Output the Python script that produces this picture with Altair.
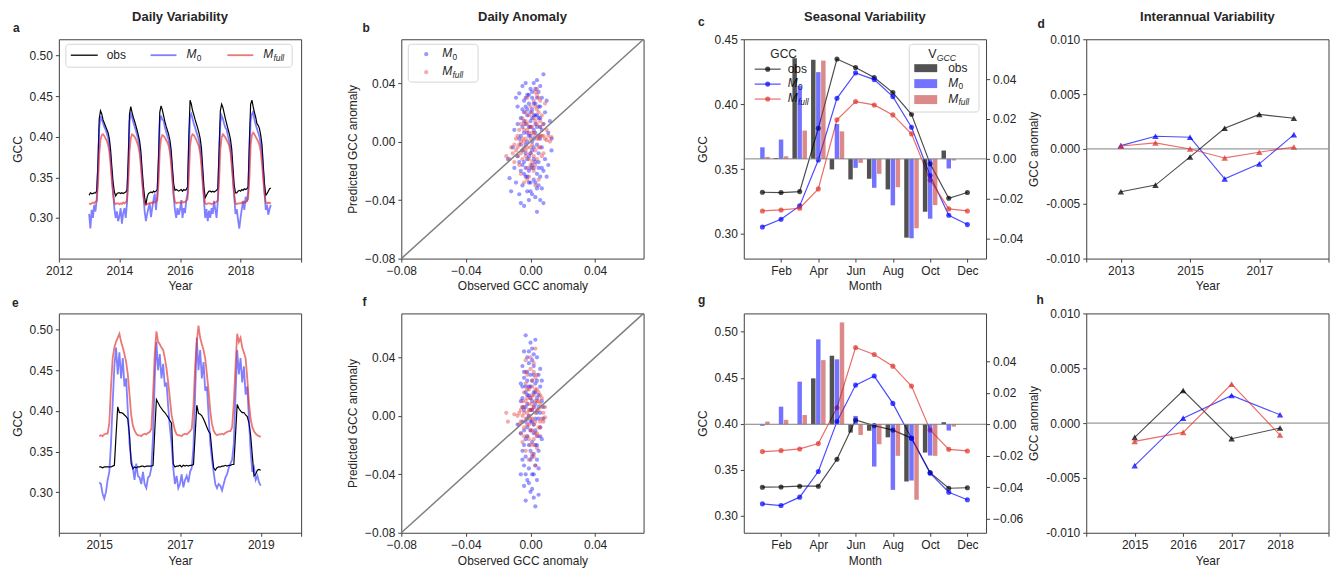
import altair as alt
import pandas as pd

FONT = "Liberation Sans"
TXT = "#262626"
FRAME = "#404040"
BLUE = "#0000ff"
RED = "#e0302a"
BLACK = "#000000"
GRAY = "#808080"
W, H = 243, 220
BW = 0.24  # bar width in months

# ---------------- data ----------------
# Panel a: daily GCC, semi-monthly readings (24 per year)
A_YEARS = [2013, 2014, 2015, 2016, 2017, 2018]
A_OBS = {
    2013: [0.328,0.331,0.330,0.330,0.331,0.331,0.333,0.368,0.422,0.432,0.428,0.421,0.417,0.413,0.409,0.405,0.398,0.384,0.363,0.344,0.332,0.327,0.330,0.331],
    2014: [0.331,0.330,0.331,0.330,0.331,0.332,0.334,0.372,0.428,0.437,0.430,0.424,0.419,0.414,0.408,0.402,0.395,0.382,0.360,0.340,0.325,0.316,0.326,0.330],
    2015: [0.331,0.332,0.331,0.333,0.332,0.333,0.335,0.375,0.430,0.438,0.433,0.426,0.419,0.413,0.408,0.403,0.396,0.384,0.362,0.342,0.334,0.335,0.334,0.333],
    2016: [0.334,0.335,0.333,0.335,0.334,0.335,0.338,0.400,0.445,0.440,0.432,0.427,0.421,0.416,0.411,0.405,0.398,0.386,0.362,0.338,0.325,0.328,0.331,0.333],
    2017: [0.333,0.332,0.333,0.332,0.333,0.334,0.336,0.385,0.432,0.440,0.436,0.429,0.422,0.416,0.410,0.404,0.397,0.385,0.362,0.340,0.331,0.331,0.333,0.334],
    2018: [0.333,0.335,0.334,0.336,0.335,0.336,0.338,0.395,0.440,0.445,0.437,0.430,0.424,0.416,0.414,0.410,0.402,0.390,0.365,0.342,0.328,0.330,0.333,0.336],
}
A_OBS_END = 0.337
A_M0 = {
    2013: [0.305,0.287,0.310,0.300,0.316,0.308,0.322,0.360,0.410,0.425,0.421,0.417,0.412,0.409,0.404,0.399,0.389,0.374,0.352,0.332,0.312,0.300,0.308,0.296],
    2014: [0.302,0.312,0.293,0.306,0.312,0.300,0.318,0.362,0.418,0.428,0.424,0.418,0.413,0.408,0.402,0.396,0.388,0.372,0.350,0.330,0.308,0.296,0.305,0.312],
    2015: [0.318,0.301,0.312,0.322,0.330,0.310,0.328,0.365,0.418,0.426,0.421,0.420,0.412,0.406,0.401,0.396,0.388,0.374,0.354,0.326,0.310,0.300,0.312,0.304],
    2016: [0.310,0.322,0.300,0.312,0.306,0.322,0.330,0.380,0.425,0.428,0.422,0.416,0.411,0.406,0.401,0.396,0.386,0.374,0.350,0.322,0.300,0.311,0.296,0.309],
    2017: [0.300,0.312,0.305,0.321,0.310,0.300,0.322,0.372,0.418,0.426,0.422,0.416,0.411,0.409,0.401,0.395,0.386,0.371,0.350,0.326,0.305,0.311,0.298,0.287],
    2018: [0.300,0.311,0.321,0.310,0.326,0.320,0.332,0.378,0.420,0.428,0.431,0.421,0.415,0.410,0.405,0.400,0.391,0.380,0.356,0.332,0.310,0.316,0.304,0.311],
}
A_M0_END = 0.316
A_MF = {
    2013: [0.318,0.317,0.318,0.319,0.318,0.320,0.321,0.340,0.378,0.396,0.402,0.403,0.401,0.398,0.395,0.390,0.382,0.366,0.346,0.329,0.319,0.317,0.318,0.318],
    2014: [0.317,0.318,0.317,0.319,0.318,0.319,0.322,0.342,0.382,0.398,0.403,0.402,0.400,0.397,0.393,0.388,0.380,0.364,0.344,0.327,0.318,0.316,0.317,0.318],
    2015: [0.318,0.319,0.318,0.320,0.319,0.320,0.322,0.343,0.383,0.398,0.402,0.401,0.399,0.396,0.393,0.389,0.381,0.366,0.346,0.329,0.320,0.318,0.319,0.319],
    2016: [0.319,0.318,0.320,0.319,0.320,0.321,0.323,0.348,0.388,0.400,0.403,0.402,0.399,0.396,0.392,0.388,0.380,0.364,0.343,0.327,0.318,0.317,0.318,0.318],
    2017: [0.318,0.317,0.318,0.318,0.319,0.320,0.322,0.345,0.385,0.399,0.403,0.401,0.399,0.396,0.393,0.389,0.381,0.365,0.345,0.328,0.318,0.317,0.318,0.318],
    2018: [0.318,0.319,0.318,0.320,0.319,0.321,0.323,0.348,0.390,0.402,0.405,0.403,0.400,0.397,0.394,0.390,0.382,0.367,0.347,0.330,0.319,0.318,0.319,0.318],
}
A_MF_END = 0.319

# Panel e: daily GCC, semi-monthly readings
E_YEARS = [2015, 2016, 2017, 2018]
E_OBS = {
    2015: [0.331,0.331,0.330,0.331,0.331,0.331,0.331,0.331,0.332,0.333,0.370,0.405,0.398,0.398,0.397,0.395,0.393,0.390,0.370,0.335,0.329,0.331,0.330,0.331],
    2016: [0.331,0.332,0.332,0.331,0.332,0.332,0.332,0.332,0.333,0.375,0.414,0.410,0.406,0.403,0.400,0.398,0.395,0.392,0.388,0.385,0.335,0.331,0.332,0.332],
    2017: [0.333,0.331,0.333,0.332,0.333,0.332,0.333,0.333,0.334,0.370,0.407,0.397,0.396,0.394,0.390,0.385,0.380,0.375,0.372,0.350,0.330,0.327,0.330,0.331],
    2018: [0.331,0.332,0.332,0.333,0.332,0.333,0.333,0.334,0.334,0.370,0.408,0.403,0.400,0.398,0.398,0.395,0.393,0.385,0.370,0.345,0.320,0.322,0.327,0.328],
}
E_OBS_END = 0.327
E_M0 = {
    2015: [0.312,0.310,0.298,0.292,0.300,0.315,0.325,0.360,0.410,0.455,0.478,0.445,0.472,0.440,0.465,0.430,0.440,0.400,0.360,0.340,0.330,0.315,0.335,0.320],
    2016: [0.318,0.310,0.325,0.310,0.305,0.318,0.320,0.330,0.370,0.440,0.485,0.450,0.470,0.440,0.458,0.430,0.435,0.405,0.380,0.360,0.330,0.310,0.320,0.305],
    2017: [0.310,0.322,0.306,0.315,0.320,0.312,0.325,0.330,0.355,0.420,0.490,0.450,0.475,0.440,0.460,0.425,0.430,0.395,0.360,0.340,0.325,0.310,0.305,0.310],
    2018: [0.308,0.302,0.310,0.318,0.322,0.330,0.335,0.340,0.360,0.420,0.475,0.445,0.465,0.435,0.455,0.420,0.430,0.390,0.350,0.325,0.330,0.315,0.320,0.312],
}
E_M0_END = 0.308
E_MF = {
    2015: [0.369,0.370,0.369,0.371,0.372,0.372,0.385,0.430,0.465,0.478,0.485,0.490,0.495,0.485,0.478,0.470,0.460,0.445,0.420,0.395,0.382,0.376,0.372,0.370],
    2016: [0.370,0.369,0.371,0.372,0.371,0.373,0.374,0.378,0.420,0.470,0.498,0.485,0.482,0.478,0.475,0.465,0.452,0.435,0.415,0.395,0.385,0.376,0.371,0.370],
    2017: [0.370,0.369,0.371,0.372,0.371,0.373,0.375,0.378,0.405,0.455,0.485,0.505,0.490,0.482,0.475,0.465,0.445,0.425,0.400,0.384,0.376,0.372,0.370,0.371],
    2018: [0.371,0.372,0.371,0.373,0.374,0.375,0.375,0.380,0.410,0.455,0.495,0.485,0.490,0.478,0.472,0.465,0.440,0.410,0.390,0.380,0.375,0.372,0.370,0.369],
}
E_MF_END = 0.368

# Panels b, f: (observed anomaly, predicted anomaly)
B_M0 = [(-0.013,-0.025),(-0.012,-0.034),(-0.011,-0.004),(-0.010,0.008),(-0.010,-0.018),(-0.009,0.030),(-0.009,-0.028),(-0.008,0.012),(-0.008,-0.010),(-0.008,0.024),
        (-0.007,-0.036),(-0.007,0.002),(-0.007,0.033),(-0.006,-0.020),(-0.006,0.016),(-0.006,-0.042),(-0.005,0.038),(-0.005,-0.006),(-0.005,0.022),(-0.005,-0.030),
        (-0.004,0.006),(-0.004,-0.044),(-0.004,0.028),(-0.004,-0.014),(-0.003,0.040),(-0.003,-0.024),(-0.003,0.012),(-0.003,-0.002),(-0.002,0.032),(-0.002,-0.034),
        (-0.002,0.018),(-0.002,-0.012),(-0.001,0.026),(-0.001,-0.040),(-0.001,0.004),(-0.001,-0.020),(0.000,0.036),(0.000,-0.028),(0.000,0.014),(0.000,-0.008),
        (0.001,0.022),(0.001,-0.036),(0.001,0.030),(0.001,-0.016),(0.002,0.008),(0.002,-0.026),(0.002,0.040),(0.002,-0.004),(0.003,0.018),(0.003,-0.038),
        (0.003,0.026),(0.003,-0.014),(0.004,0.042),(0.004,-0.048),(0.004,0.010),(0.004,-0.022),(0.005,0.034),(0.005,-0.030),(0.005,0.016),(0.005,-0.008),
        (0.006,0.038),(0.006,-0.040),(0.006,0.002),(0.006,0.024),(0.007,-0.018),(0.007,0.030),(0.007,-0.032),(0.008,0.046),(0.008,-0.042),(0.008,0.012),
        (0.009,0.020),(0.009,-0.012),(0.010,0.028),(0.010,-0.024),(0.011,0.006),(0.012,0.014),(0.013,0.002),(0.013,-0.006),(-0.014,-0.012),(0.011,-0.016),
        (-0.002,0.000),(0.000,0.004),(0.002,0.002),(0.001,-0.006),(-0.001,0.010),(0.003,0.006),(-0.003,-0.008),(0.004,-0.002),(0.000,0.020),(0.002,-0.012),
        (-0.004,0.014),(0.005,0.004),
        (-0.006,0.004),(-0.005,-0.016),(-0.004,0.020),(-0.003,-0.018),(-0.002,0.006),(-0.001,-0.010),(0.000,0.010),(0.001,0.016),(0.002,-0.018),(0.003,0.012),
        (0.004,0.018),(0.005,-0.014),(0.006,0.010),(0.007,-0.004),(-0.005,0.010),(-0.003,0.024),(-0.001,-0.028),(0.001,0.034),(0.003,-0.028),(0.005,0.024),
        (0.006,-0.024),(-0.004,-0.022),(-0.002,0.022),(0.000,-0.018),(0.002,0.026),(0.004,-0.032),(0.006,0.016),(-0.006,-0.002),(0.007,0.008),(0.008,-0.020),
        (-0.007,-0.014),(0.001,0.000),(-0.002,-0.024),(0.003,0.036),(0.004,0.030),(-0.001,0.032),(0.005,-0.018),(0.002,0.018),(-0.003,0.030),(0.000,-0.034)]
B_MF = [(-0.015,-0.010),(-0.013,-0.012),(-0.012,-0.004),(-0.011,-0.008),(-0.010,-0.002),(-0.010,-0.014),(-0.009,-0.006),(-0.009,0.002),(-0.008,-0.010),(-0.008,0.004),
        (-0.007,-0.016),(-0.007,-0.002),(-0.007,0.008),(-0.006,-0.008),(-0.006,0.012),(-0.006,-0.022),(-0.005,0.002),(-0.005,-0.012),(-0.005,0.016),(-0.004,-0.004),
        (-0.004,0.008),(-0.004,-0.028),(-0.003,0.020),(-0.003,-0.010),(-0.003,0.002),(-0.002,-0.018),(-0.002,0.012),(-0.002,-0.004),(-0.001,0.006),(-0.001,-0.024),
        (-0.001,0.018),(0.000,-0.008),(0.000,0.002),(0.000,0.024),(0.001,-0.014),(0.001,0.010),(0.001,-0.002),(0.002,0.028),(0.002,-0.020),(0.002,0.006),
        (0.003,0.034),(0.003,-0.006),(0.003,0.014),(0.004,0.036),(0.004,-0.012),(0.004,0.022),(0.005,0.030),(0.005,0.002),(0.005,-0.026),(0.006,0.010),
        (0.006,-0.004),(0.007,0.018),(0.007,0.004),(0.008,-0.008),(0.008,0.012),(0.009,0.002),(0.010,0.008),(0.011,0.004),(0.012,0.000),(0.013,0.003),
        (0.009,0.026),(0.006,0.028),(-0.002,0.030),(0.000,-0.016),(0.003,-0.030),
        (-0.004,0.000),(-0.003,-0.006),(-0.002,0.008),(-0.001,-0.012),(0.000,0.010),(0.001,0.006),(0.002,-0.010),(0.003,0.004),(0.004,0.002),(0.005,-0.004),
        (0.006,0.014),(0.007,-0.010),(-0.006,0.000),(-0.005,-0.006),(0.000,-0.004),(0.002,0.016),(0.004,0.012),(0.001,-0.018),(-0.003,0.014),(0.003,0.024),
        (0.005,0.020),(0.008,0.004),(0.010,0.001),(-0.008,-0.004),(-0.002,-0.026),(0.001,0.020),(0.003,-0.016),(0.006,0.004),(-0.004,0.012),(0.004,0.032)]
F_M0 = [(-0.006,0.022),(-0.006,-0.012),(-0.006,-0.040),(-0.005,0.034),(-0.005,-0.004),(-0.005,-0.024),(-0.005,0.012),(-0.004,0.044),(-0.004,-0.034),(-0.004,0.004),
        (-0.004,-0.048),(-0.004,0.026),(-0.003,-0.016),(-0.003,0.055),(-0.003,0.016),(-0.003,-0.058),(-0.003,-0.028),(-0.002,0.030),(-0.002,-0.008),(-0.002,0.040),
        (-0.002,-0.044),(-0.002,0.008),(-0.001,-0.020),(-0.001,0.020),(-0.001,-0.036),(-0.001,0.036),(-0.001,0.000),(0.000,-0.052),(0.000,0.012),(0.000,-0.030),
        (0.000,0.028),(0.000,-0.010),(0.001,0.046),(0.001,-0.040),(0.001,0.004),(0.001,-0.018),(0.001,0.024),(0.002,-0.056),(0.002,0.034),(0.002,-0.006),
        (0.002,0.016),(0.002,-0.026),(0.003,0.052),(0.003,-0.034),(0.003,0.008),(0.003,-0.062),(0.003,0.022),(0.004,-0.014),(0.004,0.040),(0.004,-0.044),
        (0.004,0.002),(0.005,0.028),(0.005,-0.024),(0.005,0.014),(0.005,-0.054),(0.006,0.020),(0.006,-0.008),(0.006,0.032),(0.007,-0.016),(0.007,0.024),
        (0.008,0.006),(0.008,-0.002),(-0.008,-0.006),(0.000,0.004),(-0.002,-0.002),(0.001,-0.004),(0.003,-0.002),(-0.003,0.006),(0.002,0.042),(-0.001,-0.046),
        (-0.005,0.006),(-0.004,-0.020),(-0.003,0.020),(-0.002,-0.014),(-0.001,0.014),(0.000,-0.004),(0.001,0.010),(0.002,-0.012),(0.003,0.016),(0.004,-0.020),
        (0.005,0.006),(0.006,-0.014),(-0.005,-0.030),(-0.004,0.030),(-0.002,0.024),(0.000,0.020),(0.001,-0.028),(0.002,0.028),(0.003,-0.020),(0.004,0.024),
        (0.005,-0.036),(-0.003,-0.040),(-0.001,0.044),(0.001,-0.050),(0.004,0.012),(-0.002,0.014),(0.000,-0.024),(0.002,0.006),(0.003,-0.010),(-0.004,-0.010),
        (0.006,0.002),(-0.006,0.010),(0.007,0.010),(0.001,0.038),(-0.003,-0.004),(0.005,-0.002),(0.002,-0.040),(-0.005,0.020),(0.000,0.050),(0.004,-0.030)]
F_MF = [(-0.015,0.002),(-0.014,-0.004),(-0.010,0.001),(-0.008,0.000),(-0.007,-0.006),(-0.006,0.004),(-0.006,-0.012),(-0.005,0.010),(-0.005,-0.018),(-0.005,0.000),
        (-0.004,0.016),(-0.004,-0.008),(-0.004,0.006),(-0.003,-0.024),(-0.003,0.022),(-0.003,-0.002),(-0.002,0.012),(-0.002,-0.014),(-0.002,0.028),(-0.002,0.002),
        (-0.001,-0.030),(-0.001,0.008),(-0.001,-0.006),(-0.001,0.018),(0.000,-0.020),(0.000,0.004),(0.000,0.032),(0.000,-0.010),(0.001,0.014),(0.001,-0.002),
        (0.001,-0.026),(0.001,0.024),(0.002,0.006),(0.002,-0.016),(0.002,0.036),(0.002,-0.006),(0.003,0.018),(0.003,-0.034),(0.003,0.002),(0.003,0.046),
        (0.004,-0.012),(0.004,0.010),(0.004,0.028),(0.004,-0.022),(0.005,0.004),(0.005,0.016),(0.005,-0.008),(0.006,0.008),(0.006,-0.004),(0.007,0.012),
        (0.007,-0.002),(0.008,0.002),(0.009,0.006),(0.009,-0.001),(0.000,0.040),(-0.003,0.038),(0.002,-0.028),(-0.001,0.000),(0.001,0.004),(0.003,-0.004),
        (-0.004,0.002),(-0.003,0.010),(-0.002,-0.006),(-0.001,0.004),(0.000,0.012),(0.001,-0.010),(0.002,0.014),(0.003,-0.012),(0.004,0.004),(0.005,0.010),
        (0.006,-0.008),(-0.005,0.006),(-0.006,-0.004),(0.000,-0.002),(0.001,0.020),(0.002,-0.020),(0.003,0.026),(-0.002,0.018),(-0.004,-0.014),(0.005,-0.014),
        (0.007,0.006),(0.008,-0.004),(-0.001,-0.016),(0.002,0.030),(0.004,0.018),(-0.003,0.030),(0.001,0.008),(0.003,0.010),(-0.007,0.002),(0.006,0.014)]
ANOM_LIM = [-0.08, 0.07]

# Panels c, g: monthly climatology (left axis) and V_GCC bars (right axis)
MONTHS = [1, 2, 3, 4, 5, 6, 7, 8, 9, 10, 11, 12]
MONTH_NAMES = ["", "Jan", "Feb", "Mar", "Apr", "May", "Jun", "Jul", "Aug", "Sep", "Oct", "Nov", "Dec"]
C_OBS = [0.3321,0.3319,0.3326,0.3814,0.4348,0.4282,0.4205,0.4089,0.3922,0.3540,0.3275,0.3319]
C_M0 = [0.3054,0.3113,0.3216,0.3570,0.4045,0.4241,0.4189,0.4058,0.3822,0.3450,0.3144,0.3072]
C_MF = [0.3177,0.3185,0.3198,0.3347,0.3879,0.4020,0.3994,0.3917,0.3771,0.3416,0.3193,0.3177]
C_V_OBS = [0.0, 0.0005, 0.0505, 0.0497, -0.0053, -0.0103, -0.0100, -0.0153, -0.0395, -0.0265, 0.0042, 0.0]
C_V_M0 = [0.0058, 0.0097, 0.0367, 0.0435, 0.0175, -0.0045, -0.0145, -0.0233, -0.0398, -0.0300, -0.0048, 0.0]
C_V_MF = [0.0010, 0.0013, 0.0142, 0.0493, 0.0138, -0.0020, -0.0075, -0.0142, -0.0348, -0.0232, -0.0008, 0.0]
G_OBS = [0.3311,0.3314,0.3322,0.3322,0.3615,0.4042,0.3980,0.3932,0.3845,0.3470,0.3300,0.3305]
G_M0 = [0.3130,0.3112,0.3203,0.3481,0.4024,0.4421,0.4519,0.4222,0.3843,0.3463,0.3257,0.3174]
G_MF = [0.3698,0.3709,0.3727,0.3785,0.4175,0.4830,0.4754,0.4627,0.4410,0.3933,0.3723,0.3705]
G_V_OBS = [0.0, 0.0, 0.0, 0.0292, 0.0436, -0.0053, -0.0042, -0.0083, -0.0364, -0.0180, 0.0013, 0.0]
G_V_M0 = [-0.0010, 0.0112, 0.0271, 0.0540, 0.0413, 0.0053, -0.0269, -0.0417, -0.0358, -0.0199, -0.0040, 0.0]
G_V_MF = [0.0017, 0.0028, 0.0059, 0.0408, 0.0648, -0.0068, -0.0127, -0.0201, -0.0480, -0.0201, -0.0015, 0.0]

# Panels d, h: interannual anomalies
D_YEARS = [2013, 2014, 2015, 2016, 2017, 2018]
D_OBS = [-0.0039, -0.0033, -0.00073, 0.00188, 0.00315, 0.00279]
D_M0 = [0.0003, 0.00115, 0.00106, -0.00273, -0.00136, 0.0013]
D_MF = [0.00027, 0.00055, 0.0, -0.00082, -0.0003, 0.00018]
H_YEARS = [2015, 2016, 2017, 2018]
H_OBS = [-0.0013, 0.00297, -0.00142, -0.00045]
H_M0 = [-0.00388, 0.00045, 0.00252, 0.00076]
H_MF = [-0.00167, -0.00085, 0.00355, -0.00109]

ONE = pd.DataFrame({"k": [0]})


# ---------------- helpers ----------------
def ts_df(years, table, last):
    rows = [{"t": yr + k / 24.0, "v": v} for yr in years for k, v in enumerate(table[yr])]
    rows.append({"t": years[-1] + 1.0, "v": last})
    return pd.DataFrame(rows)


def txt(s, x, y, size=12, weight="normal", style="normal", align="left", color=TXT):
    return alt.Chart(ONE).mark_text(
        text=s, font=FONT, fontSize=size, fontWeight=weight, fontStyle=style,
        align=align, baseline="middle", color=color
    ).encode(x=alt.value(x), y=alt.value(y))


def math_label(x, y, main, sub, size=12, main_style="italic"):
    w = {"M": 0.86, "V": 0.68}[main] * size
    return [
        txt(main, x, y, size, style=main_style),
        txt(sub, x + w, y + 0.3 * size, round(size * 0.7, 1),
            style="italic" if sub.isalpha() else "normal"),
    ]


def swatch_line(x1, x2, y, color, width, opacity):
    return alt.Chart(ONE).mark_rule(color=color, strokeWidth=width, opacity=opacity).encode(
        x=alt.value(x1), x2=alt.value(x2), y=alt.value(y))


def box(x1, x2, y1, y2):
    return alt.Chart(ONE).mark_rect(
        fill="white", fillOpacity=0.8, stroke="#d5d5d5", strokeWidth=1, cornerRadius=3
    ).encode(x=alt.value(x1), x2=alt.value(x2), y=alt.value(y1), y2=alt.value(y2))


def dot(x, y, color, opacity, size):
    return alt.Chart(ONE).mark_circle(color=color, opacity=opacity, size=size).encode(
        x=alt.value(x), y=alt.value(y))


def patch(x1, x2, y1, y2, color, opacity):
    return alt.Chart(ONE).mark_rect(color=color, opacity=opacity).encode(
        x=alt.value(x1), x2=alt.value(x2), y=alt.value(y1), y2=alt.value(y2))


def year_axis(values, hidden):
    cond = " || ".join(f"datum.value == {h}" for h in hidden)
    return alt.Axis(title="Year", values=values, format="d",
                    labelExpr=f"({cond}) ? '' : datum.label")


def heading(letter, lx, ly, title):
    out = [txt(letter, lx, ly, 12, weight="bold")]
    if title:
        out.append(txt(title, W / 2, -22, 13, weight="bold", align="center"))
    return out


# ---------------- panels ----------------
def ts_panel(obs, m0, mf, xdom, xvals, hidden, letter, lpos, title, legend):
    x = alt.X("t:Q", scale=alt.Scale(domain=xdom, nice=False, zero=False), axis=year_axis(xvals, hidden))
    y = alt.Y("v:Q", scale=alt.Scale(domain=[0.25, 0.52], nice=False, zero=False),
              axis=alt.Axis(title="GCC", values=[0.30, 0.35, 0.40, 0.45, 0.50], format=".2f"))
    layers = [
        alt.Chart(obs).mark_line(color=BLACK, strokeWidth=1.2).encode(x=x, y=y),
        alt.Chart(m0).mark_line(color=BLUE, strokeWidth=1.8, opacity=0.5).encode(x=x, y=y),
        alt.Chart(mf).mark_line(color=RED, strokeWidth=1.8, opacity=0.65).encode(x=x, y=y),
    ]
    if legend:
        layers += [box(7, 234, 5, 28),
                   swatch_line(12, 39, 16, BLACK, 1.3, 1.0), txt("obs", 48, 16),
                   swatch_line(92, 118, 16, BLUE, 1.8, 0.5)] + math_label(128, 15, "M", "0") + [
                   swatch_line(169, 195, 16, RED, 1.8, 0.65)] + math_label(205, 15, "M", "full")
    layers += heading(letter, lpos[0], lpos[1], title)
    return alt.layer(*layers).properties(width=W, height=H)


def scatter_panel(m0, mf, letter, lpos, title, legend):
    ax = dict(values=[-0.08, -0.04, 0.0, 0.04],
              labelExpr="replace(format(datum.value, '.2f'), '-', '\u2212')")
    x = alt.X("x:Q", scale=alt.Scale(domain=ANOM_LIM, nice=False, zero=False),
              axis=alt.Axis(title="Observed GCC anomaly", **ax))
    y = alt.Y("y:Q", scale=alt.Scale(domain=ANOM_LIM, nice=False, zero=False),
              axis=alt.Axis(title="Predicted GCC anomaly", **ax))
    d0 = pd.DataFrame(m0, columns=["x", "y"])
    d1 = pd.DataFrame(mf, columns=["x", "y"])
    diag = pd.DataFrame({"x": ANOM_LIM, "y": ANOM_LIM})
    layers = [
        alt.Chart(d0).mark_circle(color=BLUE, opacity=0.4, size=18).encode(x=x, y=y),
        alt.Chart(d1).mark_circle(color=RED, opacity=0.4, size=18).encode(x=x, y=y),
        alt.Chart(diag).mark_line(color=GRAY, strokeWidth=1.5).encode(x=x, y=y),
    ]
    if legend:
        layers += [box(7, 77, 5, 43), dot(25, 15, BLUE, 0.4, 18), dot(25, 33, RED, 0.4, 18)]
        layers += math_label(41, 14, "M", "0") + math_label(41, 32, "M", "full")
    layers += heading(letter, lpos[0], lpos[1], title)
    return alt.layer(*layers).properties(width=W, height=H)


MONTH_EXPR = "[" + ",".join(f"'{m}'" for m in MONTH_NAMES) + "][datum.value]"


def seasonal_panel(lines, bars, ldom, lvals, rdom, rvals, letter, lpos, title, legend):
    xscale = alt.Scale(domain=[0, 13], nice=False, zero=False)
    xaxis = alt.Axis(title="Month", values=[2, 4, 6, 8, 10, 12], labelExpr=MONTH_EXPR)

    def X(f):
        return alt.X(f + ":Q", scale=xscale, axis=xaxis)

    yl = alt.Y("v:Q", scale=alt.Scale(domain=ldom, nice=False, zero=False),
               axis=alt.Axis(title="GCC", values=lvals, format=".2f"))
    left = []
    for vals, color, op in lines:
        base = alt.Chart(pd.DataFrame({"m": MONTHS, "v": vals})).encode(x=X("m"), y=yl)
        left += [base.mark_line(color=color, strokeWidth=1.2, opacity=op),
                 base.mark_circle(color=color, size=26, opacity=op)]
    if legend:
        left += [txt("GCC", 40, 15, 12, align="center")]
        for (vals, color, op), yy, name in zip(lines, [30, 45, 60], ["obs", "0", "full"]):
            left += [swatch_line(11, 37, yy, color, 1.2, op), dot(24, yy, color, op, 26)]
            if name == "obs":
                left.append(txt("obs", 44, yy))
            else:
                left += math_label(44, yy - 1, "M", name)
    yr = alt.Y("v:Q", scale=alt.Scale(domain=rdom, nice=False, zero=False),
               axis=alt.Axis(title=None, orient="right", values=rvals,
                             labelExpr="replace(format(datum.value, '.2f'), '-', '\u2212')"))
    right = []
    for vals, color, op, off in bars:
        right.append(
            alt.Chart(pd.DataFrame({"m": MONTHS, "v": vals}))
            .transform_calculate(a=f"datum.m + ({off}) - {BW / 2}", b=f"datum.m + ({off}) + {BW / 2}")
            .mark_bar(color=color, opacity=op)
            .encode(x=X("a"), x2="b:Q", y=yr, y2=alt.datum(0))
        )
    right.append(alt.Chart(ONE).mark_rule(color=GRAY, strokeWidth=1).encode(y=alt.datum(0)))
    if legend:
        right += [box(166, 236, 5, 73)] + math_label(185, 15, "V", "GCC", 12.5, main_style="normal")
        for (vals, color, op, off), (y1, y2), name in zip(bars, [(25, 33), (40, 49), (56, 65)], ["obs", "0", "full"]):
            right.append(patch(171, 194, y1, y2, color, op))
            if name == "obs":
                right.append(txt("obs", 205, (y1 + y2) / 2))
            else:
                right += math_label(205, (y1 + y2) / 2 - 1, "M", name)
    lay = alt.layer(alt.layer(*left), alt.layer(*right), *heading(letter, lpos[0], lpos[1], title))
    return lay.resolve_scale(y="independent").properties(width=W, height=H)


def inter_panel(years, obs, m0, mf, xdom, xvals, hidden, letter, lpos, title):
    x = alt.X("yr:Q", scale=alt.Scale(domain=xdom, nice=False, zero=False), axis=year_axis(xvals, hidden))
    y = alt.Y("v:Q", scale=alt.Scale(domain=[-0.01, 0.01], nice=False, zero=False),
              axis=alt.Axis(title="GCC anomaly", values=[-0.01, -0.005, 0.0, 0.005, 0.01],
                            labelExpr="replace(format(datum.value, '.3f'), '\u2212', '-')"))
    layers = [alt.Chart(ONE).mark_rule(color=GRAY, strokeWidth=1).encode(y=alt.datum(0))]
    for vals, color in [(obs, BLACK), (m0, BLUE), (mf, RED)]:
        base = alt.Chart(pd.DataFrame({"yr": years, "v": vals})).encode(x=x, y=y)
        layers += [base.mark_line(color=color, strokeWidth=1.1, opacity=0.7),
                   base.mark_point(shape="triangle-up", filled=True, size=42, color=color, opacity=0.75)]
    layers += heading(letter, lpos[0], lpos[1], title)
    return alt.layer(*layers).properties(width=W, height=H)


pa = ts_panel(ts_df(A_YEARS, A_OBS, A_OBS_END), ts_df(A_YEARS, A_M0, A_M0_END), ts_df(A_YEARS, A_MF, A_MF_END),
              [2012, 2020], [2012, 2014, 2016, 2018, 2020], [2020], "a", (-46, -11), "Daily Variability", True)
pe = ts_panel(ts_df(E_YEARS, E_OBS, E_OBS_END), ts_df(E_YEARS, E_M0, E_M0_END), ts_df(E_YEARS, E_MF, E_MF_END),
              [2014, 2020], [2014, 2015, 2017, 2019, 2020], [2014, 2020], "e", (-47, -10), None, False)
pb = scatter_panel(B_M0, B_MF, "b", (-39, -11), "Daily Anomaly", True)
pf = scatter_panel(F_M0, F_MF, "f", (-39, -11), None, False)

LINE_STYLE = [(BLACK, 0.7), (BLUE, 0.7), (RED, 0.7)]
BAR_STYLE = [(BLACK, 0.68, -0.27), (BLUE, 0.55, 0.0), ("#c0282a", 0.55, 0.27)]

pc = seasonal_panel([(v,) + s for v, s in zip([C_OBS, C_M0, C_MF], LINE_STYLE)],
                    [(v,) + s for v, s in zip([C_V_OBS, C_V_M0, C_V_MF], BAR_STYLE)],
                    [0.281, 0.45], [0.30, 0.35, 0.40, 0.45], [-0.05, 0.06], [-0.04, -0.02, 0.0, 0.02, 0.04],
                    "c", (-46, -17), "Seasonal Variability", True)
pg = seasonal_panel([(v,) + s for v, s in zip([G_OBS, G_M0, G_MF], LINE_STYLE)],
                    [(v,) + s for v, s in zip([G_V_OBS, G_V_M0, G_V_MF], BAR_STYLE)],
                    [0.2816, 0.52], [0.30, 0.35, 0.40, 0.45, 0.50], [-0.069, 0.0705],
                    [-0.06, -0.04, -0.02, 0.0, 0.02, 0.04], "g", (-46, -13), None, False)

pd_ = inter_panel(D_YEARS, D_OBS, D_M0, D_MF, [2012, 2019], [2012, 2013, 2015, 2017, 2019], [2012, 2019],
                  "d", (-49, -15), "Interannual Variability")
ph = inter_panel(H_YEARS, H_OBS, H_M0, H_MF, [2014, 2019], [2014, 2015, 2016, 2017, 2018, 2019], [2014, 2019],
                 "h", (-50, -13), None)

chart = (
    alt.concat(pa, pb, pc, pd_, pe, pf, pg, ph, columns=4, bounds="flush",
               spacing={"row": 55, "column": 100.5})
    .properties(padding={"left": 2, "top": 1.5, "right": 0, "bottom": 0})
    .configure_view(stroke=FRAME, strokeWidth=1)
    .configure_axis(grid=False, domain=False, ticks=True, tickColor=FRAME, tickSize=3.5, tickWidth=1,
                    labelFont=FONT, titleFont=FONT, labelFontSize=12, titleFontSize=12,
                    labelColor=TXT, titleColor=TXT, titleFontWeight="normal",
                    labelPadding=3, titlePadding=5, labelFlush=False, labelOverlap=False)
)

chart.save("out.html", embed_options={"renderer": "svg", "actions": False})
